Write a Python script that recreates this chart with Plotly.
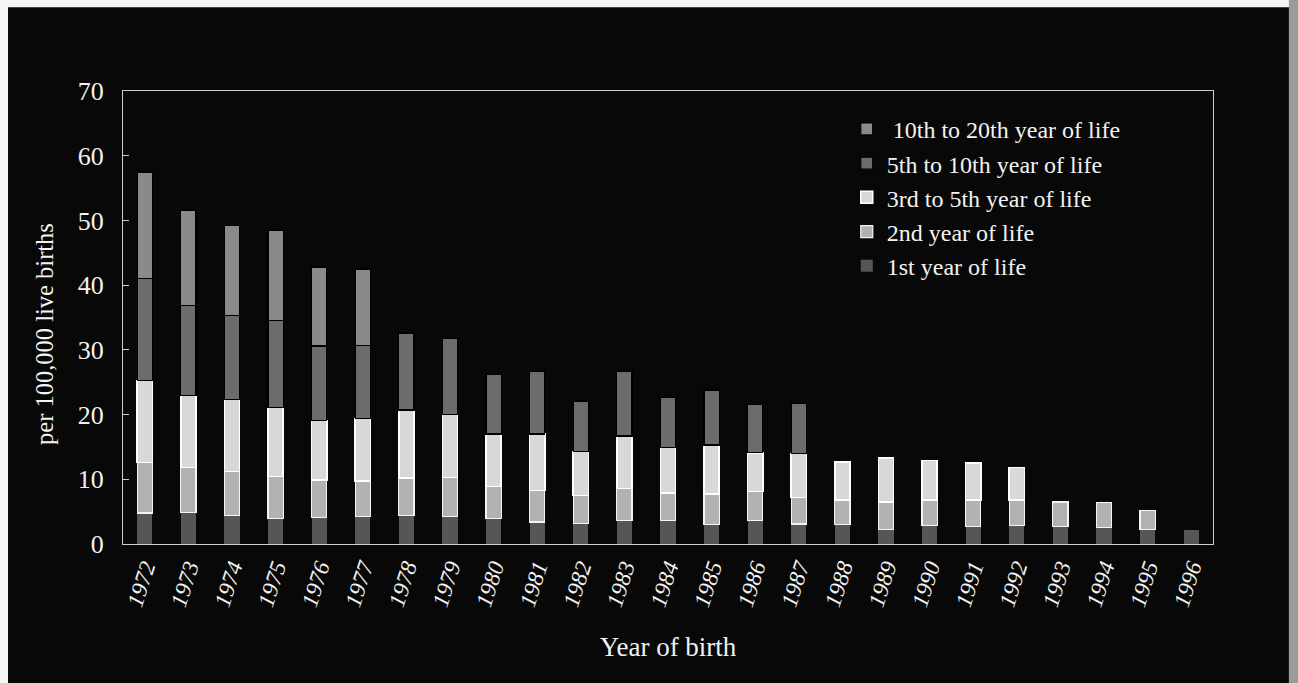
import plotly.graph_objects as go

# Birth cohorts
years = [str(y) for y in range(1972, 1997)]

# Rates per 100,000 live births, by age at occurrence (segment heights)
first_year = [4.8, 4.9, 4.4, 3.9, 4.1, 4.2, 4.4, 4.3, 3.9, 3.4, 3.2, 3.6, 3.6,
              3.0, 3.6, 3.1, 3.0, 2.3, 2.9, 2.7, 2.8, 2.7, 2.6, 2.2, 2.1]
second_year = [7.8, 6.9, 6.8, 6.5, 5.8, 5.5, 5.8, 6.0, 5.0, 4.9, 4.3, 5.0, 4.3,
               4.7, 4.5, 4.1, 3.8, 4.2, 3.9, 4.1, 4.0, 3.8, 3.8, 3.0, None]
third_fifth = [12.7, 11.2, 11.1, 10.7, 9.2, 9.7, 10.5, 9.7, 8.1, 8.7, 6.8, 8.1,
               7.0, 7.6, 6.0, 6.8, 5.9, 6.8, 6.1, 5.7, 5.0, None, None, None, None]
fifth_tenth = [15.7, 13.8, 13.0, 13.4, 11.5, 11.3, 11.9, 11.7, 9.2, 9.6, 7.8,
               10.0, 7.7, 8.5, 7.4, 7.7, None, None, None, None, None, None,
               None, None, None]
tenth_twentieth = [16.4, 14.7, 13.9, 13.9, 12.1, 11.8] + [None] * 19

series = [
    ("1st year of life", first_year, "#565656", "#565656", 0),
    ("2nd year of life", second_year, "#b2b2b2", "#f4f4f4", 1.2),
    ("3rd to 5th year of life", third_fifth, "#d8d8d8", "#ffffff", 1.5),
    ("5th to 10th year of life", fifth_tenth, "#6c6c6c", "#000000", 1.2),
    (" 10th to 20th year of life", tenth_twentieth, "#8a8a8a", "#000000", 1.2),
]

fig = go.Figure()
for name, vals, fill, edge, lw in series:
    fig.add_trace(go.Bar(
        x=years, y=vals, name=name,
        marker=dict(color=fill, line=dict(color=edge, width=lw)),
    ))

serif = "Liberation Serif, Times New Roman, serif"
txt = "#f2f2f2"
axis_col = "#cfcfcf"

fig.update_layout(
    width=1298, height=683,
    barmode="stack", bargap=0.65,
    paper_bgcolor="#080808", plot_bgcolor="#080808",
    margin=dict(l=123, r=85, t=91, b=139),
    font=dict(family=serif, color=txt, size=24),
    showlegend=True,
    legend=dict(
        x=0.664, y=0.965, xanchor="left", yanchor="top",
        traceorder="reversed", bgcolor="rgba(0,0,0,0)",
        font=dict(family=serif, size=24, color=txt),
        itemwidth=30, tracegroupgap=0,
    ),
    xaxis=dict(
        title=dict(text="Year of birth", font=dict(family=serif, size=27, color=txt),
                   standoff=28),
        tickangle=-72, tickfont=dict(family=serif, size=23, color=txt, style="italic"),
        showline=True, linecolor=axis_col, linewidth=1, mirror=True,
        ticks="", showgrid=False,
    ),
    yaxis=dict(
        range=[0, 70], dtick=10, tickfont=dict(family=serif, size=26, color=txt),
        showline=True, linecolor=axis_col, linewidth=1, mirror=True,
        ticks="inside", ticklen=6, tickcolor=axis_col, showgrid=False,
        zeroline=False, ticklabelstandoff=13,
    ),
    annotations=[
        dict(text="per 100,000 live births", xref="paper", yref="paper",
             x=-0.0716, y=0.4636, xanchor="center", yanchor="middle",
             textangle=-90, showarrow=False,
             font=dict(family=serif, size=24.5, color=txt)),
    ],
    shapes=[
        # light scan margins along the top, left and right edges of the sheet
        dict(type="rect", xref="paper", yref="paper", layer="above",
             x0=-0.2, x1=1.2, y0=1.185, y1=1.3, fillcolor="#f4f4f4", line_width=0),
        dict(type="rect", xref="paper", yref="paper", layer="above",
             x0=-0.2, x1=-0.1055, y0=-0.4, y1=1.3, fillcolor="#f4f4f4", line_width=0),
        dict(type="rect", xref="paper", yref="paper", layer="above",
             x0=1.0696, x1=1.2, y0=-0.4, y1=1.3, fillcolor="#9a9a9a", line_width=0),
    ],
)

fig.write_html("out.html")
